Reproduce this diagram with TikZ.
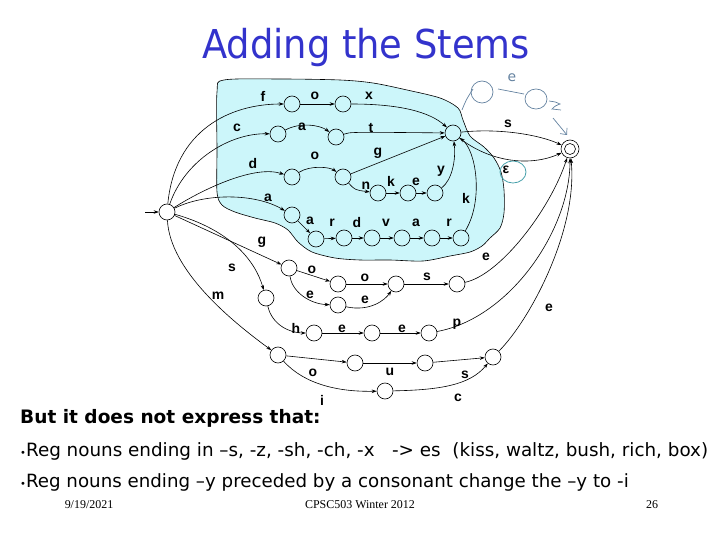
\documentclass[tikz,border=0pt]{standalone}
\usepackage{fontspec}
\usepackage{graphicx}
\setmainfont{DejaVu Sans}
\newfontfamily\lblfont{Liberation Sans}
\newfontfamily\serfont{Liberation Serif}
\usetikzlibrary{arrows.meta}
\definecolor{shade}{RGB}{204,246,250}
\definecolor{titleblue}{RGB}{51,51,204}
\definecolor{hand}{RGB}{100,130,160}
\definecolor{tealc}{RGB}{70,160,170}
\begin{document}
\begin{tikzpicture}[x=1bp,y=-1bp,
  st/.style={circle,draw,minimum size=16bp,inner sep=0pt,line width=0.6bp},
  lbl/.style={font=\lblfont\bfseries\fontsize{14}{14}\selectfont, inner sep=0pt},
  ed/.style={->,line width=0.6bp},
  handl/.style={draw=hand,line width=0.7bp},
  >={Stealth[length=5bp,width=3.5bp]}]
\useasboundingbox (0,0) rectangle (720,540);

% shaded region
\draw[fill=shade,line width=0.6bp] plot[smooth cycle,tension=0.5] coordinates {
 (224,80) (280,79) (340,80) (373,83) (407,90) (440,98) (458,108) (463,120) (470,136)
 (484,147) (494,158) (501,172) (504,190) (504,213) (500,228) (490,238) (482,246)
 (470,252) (450,256) (423,261) (390,260) (360,260) (335,258) (312,252) (298,242)
 (288,230) (275,223) (255,218) (235,212) (222,205) (217,192) (217,150) (217,92)};

% title
\node[text=titleblue, font=\fontsize{37}{37}\selectfont, anchor=base, inner sep=0pt] (title) at (366,59) {\scalebox{1}[1.08]{Adding the Stems}};

% states
\node[st] (S) at (167,212) {};
\node[st] (H) at (453,133) {};
\node[st,minimum size=18bp] (F) at (570,149) {};
\draw[line width=0.6bp] (F.center) circle (5.5bp);
\node[st] (f1) at (292,104) {};
\node[st] (f2) at (343,104) {};
\node[st] (c1) at (278,134) {};
\node[st] (c2) at (336,137) {};
\node[st] (d1) at (292,177) {};
\node[st] (d2) at (343,177) {};
\node[st] (n1) at (378,193) {};
\node[st] (n2) at (408,193) {};
\node[st] (n3) at (435,193) {};
\node[st] (a1) at (292,215) {};
\node[st] (a2) at (316,239) {};
\node[st] (a3) at (344,238) {};
\node[st] (a4) at (372,238) {};
\node[st] (a5) at (402,238) {};
\node[st] (a6) at (432,238) {};
\node[st] (a7) at (461,238) {};
\node[st] (g1) at (289,268) {};
\node[st] (g2) at (338,284) {};
\node[st] (g3) at (338,305) {};
\node[st] (g4) at (396,284) {};
\node[st] (g5) at (457,284) {};
\node[st] (s1) at (266,298) {};
\node[st] (s2) at (314,333) {};
\node[st] (s3) at (372,333) {};
\node[st] (s4) at (429,333) {};
\node[st] (m1) at (278,355) {};
\node[st] (m2) at (355,363) {};
\node[st] (m3) at (425,363) {};
\node[st] (m4) at (493,357) {};
\node[st] (mi) at (385,391) {};
\coordinate (in) at (145,212);

% edges
\draw[ed] (in) -- (S);
\draw[ed] (S) .. controls (175,130) and (230,104) .. (f1);
\draw[ed] (S) .. controls (185,160) and (230,133) .. (c1);
\draw[ed] (S) .. controls (205,188) and (255,165) .. (d1);
\draw[ed] (S) .. controls (205,193) and (255,193) .. (a1);
\draw[ed] (S) -- (g1);
\draw[ed] (S) .. controls (230,230) and (255,260) .. (s1);
\draw[ed] (S) .. controls (170,270) and (230,320) .. (m1);

\draw[ed] (f1) -- (f2);
\draw[ed] (f2) .. controls (400,104) and (430,112) .. (H);
\draw[ed] (c1) .. controls (300,122) and (320,125) .. (c2);
\draw[ed] (c2) .. controls (350,132) .. (H);
\draw[ed] (d1) .. controls (310,165) and (330,167) .. (d2);
\draw[ed] (d2) -- (H);
\draw[ed] (d2) .. controls (355,190) .. (n1);
\draw[ed] (n1) -- (n2);
\draw[ed] (n2) -- (n3);
\draw[ed] (n3) .. controls (452,180) and (456,160) .. (H);
\draw[ed] (a1) -- (a2);
\draw[ed] (a2) -- (a3);
\draw[ed] (a3) -- (a4);
\draw[ed] (a4) -- (a5);
\draw[ed] (a5) -- (a6);
\draw[ed] (a6) -- (a7);
\draw[ed] (a7) .. controls (484,200) and (476,150) .. (H);
\draw[ed] (H) .. controls (500,128) and (540,135) .. (F);
\draw[ed] (H) .. controls (490,162) and (530,167) .. (F);

\draw[ed] (g1) -- (g2);
\draw[ed] (g1) .. controls (292,292) and (310,304) .. (g3);
\draw[ed] (g2) -- (g4);
\draw[ed] (g3) .. controls (370,312) and (385,300) .. (g4);
\draw[ed] (g4) -- (g5);
\draw[ed] (g5) .. controls (500,275) and (550,210) .. (F);

\draw[ed] (s1) .. controls (272,325) and (290,333) .. (s2);
\draw[ed] (s2) -- (s3);
\draw[ed] (s3) -- (s4);
\draw[ed] (s4) .. controls (510,318) and (570,230) .. (F);

\draw[ed] (m1) -- (m2);
\draw[ed] (m2) -- (m3);
\draw[ed] (m3) -- (m4);
\draw[ed] (m1) .. controls (305,385) and (340,392) .. (mi);
\draw[ed] (mi) .. controls (440,390) and (470,385) .. (m4);
\draw[ed] (m4) .. controls (530,320) and (578,230) .. (F);

% labels
\node[lbl] (lf) at (263,96) {f};
\node[lbl] (lo1) at (315,96) {o};
\node[lbl] (lx) at (369,96) {x};
\node[lbl] (lc) at (237,128) {c};
\node[lbl] (la1) at (302,127) {a};
\node[lbl] (lt) at (371,128) {t};
\node[lbl] (ld) at (253,164) {d};
\node[lbl] (lo2) at (315,156) {o};
\node[lbl] (lg) at (378,153) {g};
\node[lbl] (ln) at (366,186) {n};
\node[lbl] (lk1) at (391,181) {k};
\node[lbl] (le1) at (416,182) {e};
\node[lbl] (ly) at (441,171) {y};
\node[lbl] (la2) at (268,198) {a};
\node[lbl] (la3) at (310,221) {a};
\node[lbl] (lr1) at (332,223) {r};
\node[lbl] (ld2) at (357,223) {d};
\node[lbl] (lv) at (386,223) {v};
\node[lbl] (la4) at (416,223) {a};
\node[lbl] (lr2) at (449,223) {r};
\node[lbl] (lk2) at (466,198) {k};
\node[lbl] (ls1) at (508,124) {s};
\node[lbl] (leps) at (506,170) {ε};
\draw[tealc,line width=0.8bp] (513,172) ellipse (13bp and 11bp);
\node[lbl] (le2) at (486,257) {e};
\node[lbl] (lg2) at (262,242) {g};
\node[lbl] (ls2) at (232,268) {s};
\node[lbl] (lo3) at (312,270) {o};
\node[lbl] (lo4) at (365,278) {o};
\node[lbl] (ls3) at (427,277) {s};
\node[lbl] (le3) at (310,295) {e};
\node[lbl] (le4) at (365,300) {e};
\node[lbl] (lm) at (218,296) {m};
\node[lbl] (le5) at (549,308) {e};
\node[lbl] (lh) at (296,328) {h};
\node[lbl] (le6) at (342,329) {e};
\node[lbl] (le7) at (402,329) {e};
\node[lbl] (lp) at (457,324) {p};
\node[lbl] (lo5) at (313,373) {o};
\node[lbl] (lu) at (390,372) {u};
\node[lbl] (ls4) at (465,375) {s};
\node[lbl] (li) at (322,400) {i};
\node[lbl] (lc2) at (458,398) {c};

% hand-drawn annotations
\draw[handl] (462,110) .. controls (466,100) .. (473,89);
\draw[handl] (482,92) circle (11bp);
\node[text=hand, font=\fontsize{14}{14}\selectfont, inner sep=0pt] (hwe) at (512,78) {e};
\draw[handl] (498,89) -- (524,94);
\draw[handl] (536,99) ellipse (11bp and 10bp);
\draw[handl] (549,101) .. controls (556,102) .. (560,104) .. controls (555,106) .. (552,109) -- (561,110);
\draw[handl,-{Straight Barb[length=5bp,width=9bp]}] (553,118) -- (567,135);

% bottom text
\node[anchor=base west, font=\bfseries\fontsize{18.6}{18.6}\selectfont, inner sep=0pt] (t1) at (20,423) {But it does not express that:};
\node[anchor=base west, font=\fontsize{18.4}{18.4}\selectfont, inner sep=0pt] (t2) at (20,456) {{\fontsize{10}{10}\selectfont •}Reg nouns ending in –s, -z, -sh, -ch, -x \ \ -> es \ (kiss, waltz, bush, rich, box)};
\node[anchor=base west, font=\fontsize{18.3}{18.3}\selectfont, inner sep=0pt] (t3) at (20,487) {{\fontsize{10}{10}\selectfont •}Reg nouns ending –y preceded by a consonant change the –y to -i};
\node[anchor=base, font=\serfont\fontsize{12}{12}\selectfont] (date) at (89,508) {9/19/2021};
\node[anchor=base, font=\serfont\fontsize{12}{12}\selectfont] (course) at (360,508) {CPSC503 Winter 2012};
\node[anchor=base, font=\serfont\fontsize{12}{12}\selectfont] (page) at (652,508) {26};
\end{tikzpicture}
\end{document}
